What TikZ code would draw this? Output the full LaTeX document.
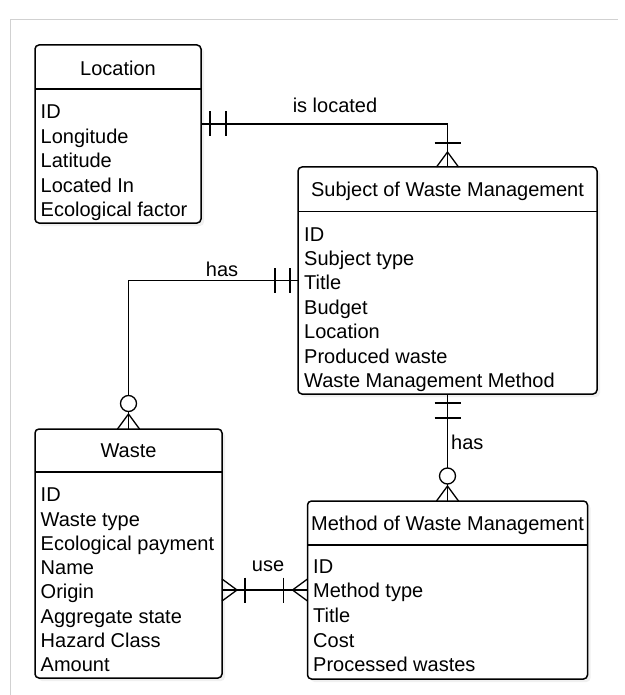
\documentclass[tikz,border=0pt]{standalone}
\usepackage{fontspec}
\setmainfont{Liberation Sans}
\usetikzlibrary{shadows,calc}
\newcommand\erfont{\fontsize{20}{24}\selectfont}
\begin{document}
\begin{tikzpicture}[x=1pt,y=-1pt,
  entity/.style={draw, line width=1.5pt, rounded corners=4pt, inner sep=0pt, outer sep=0pt, fill=white,
    drop shadow={shadow xshift=3pt, shadow yshift=-3pt, opacity=0.12}},
  sep/.style={line width=1.5pt},
  txt/.style={inner sep=0pt, anchor=base west, font=\erfont},
  ttl/.style={inner sep=0pt, anchor=base, font=\erfont},
  conn/.style={line width=1.3pt},
]
\useasboundingbox (0,0) rectangle (624,695);
\draw[black!18, line width=1pt] (10.5,695) -- (10.5,19.5) -- (618,19.5);

% entities
\node[entity, minimum width=166pt, minimum height=178pt] (loc) at (118,134) {};
\node[entity, minimum width=299pt, minimum height=227pt] (subj) at (447.5,280.5) {};
\node[entity, minimum width=187pt, minimum height=249pt] (waste) at (128.5,553.5) {};
\node[entity, minimum width=280pt, minimum height=178pt] (meth) at (447.5,590) {};

\draw[sep] (loc.west |- 0,89) -- (loc.east |- 0,89);
\draw[sep] (subj.west |- 0,211.5) -- (subj.east |- 0,211.5);
\draw[sep] (waste.west |- 0,472) -- (waste.east |- 0,472);
\draw[sep] (meth.west |- 0,545) -- (meth.east |- 0,545);

\node[ttl] (loc-t) at (118,76) {Location};
\node[ttl] (subj-t) at (447.5,196.7) {Subject of Waste Management};
\node[ttl] (waste-t) at (128.5,457.3) {Waste};
\node[ttl] (meth-t) at (447.5,530.7) {Method of Waste Management};

\foreach \t [count=\i from 0] in {ID,Longitude,Latitude,Located In,Ecological factor}
  \node[txt] (loc-\i) at (40.5,119+24.4*\i) {\t};
\foreach \t [count=\i from 0] in {ID,Subject type,Title,Budget,Location,Produced waste,Waste Management Method}
  \node[txt] (subj-\i) at (304,241+24.4*\i) {\t};
\foreach \t [count=\i from 0] in {ID,Waste type,Ecological payment,Name,Origin,Aggregate state,Hazard Class,Amount}
  \node[txt] (waste-\i) at (40.5,501.7+24.3*\i) {\t};
\foreach \t [count=\i from 0] in {ID,Method type,Title,Cost,Processed wastes}
  \node[txt] (meth-\i) at (313,573.3+24.6*\i) {\t};

% is located
\coordinate (locR) at ([yshift=10pt]loc.east);
\draw[conn] (locR) -| (subj.north);
\draw[conn] ([xshift=9pt]locR) +(0,-12.5) -- +(0,12.5);
\draw[conn] ([xshift=25pt]locR) +(0,-12.5) -- +(0,12.5);
\draw[conn] ([yshift=24pt]subj.north) +(-13,0) -- +(13,0);
\draw[conn] ([xshift=-11pt]subj.north) -- ([yshift=15pt]subj.north) -- ([xshift=11pt]subj.north);
\node[ttl] (lbl-loc) at (335,113) {is located};

% has (subject - waste)
\draw[conn] (subj.west) -| ([yshift=34pt]waste.north);
\draw[conn] ([xshift=-8pt]subj.west) +(0,-12.5) -- +(0,12.5);
\draw[conn] ([xshift=-23pt]subj.west) +(0,-12.5) -- +(0,12.5);
\draw[conn, fill=white] ([yshift=25.5pt]waste.north) circle[radius=8];
\draw[conn] ([yshift=17.5pt]waste.north) -- (waste.north);
\draw[conn] ([xshift=-11pt]waste.north) -- ([yshift=15pt]waste.north) -- ([xshift=11pt]waste.north);
\node[ttl] (lbl-has1) at (222,276.5) {has};

% has (subject - method)
\draw[conn] (subj.south) -- ([yshift=33pt]meth.north);
\draw[conn] ([yshift=-9pt]subj.south) +(-13,0) -- +(13,0);
\draw[conn] ([yshift=-24pt]subj.south) +(-13,0) -- +(13,0);
\draw[conn, fill=white] ([yshift=25pt]meth.north) circle[radius=8];
\draw[conn] ([yshift=17pt]meth.north) -- (meth.north);
\draw[conn] ([xshift=-11pt]meth.north) -- ([yshift=15pt]meth.north) -- ([xshift=11pt]meth.north);
\node[txt] (lbl-has2) at (451,449) {has};

% use
\coordinate (wR) at ([yshift=-36.5pt]waste.east);
\draw[conn] (wR) -- (meth.west);
\draw[conn] ([yshift=11pt]wR) -- ([xshift=15pt]wR) -- ([yshift=-11pt]wR);
\draw[conn] ([xshift=23pt]wR) +(0,-12.5) -- +(0,12.5);
\draw[conn] ([xshift=-24pt]meth.west) +(0,-12.5) -- +(0,12.5);
\draw[conn] ([yshift=11pt]meth.west) -- ([xshift=-15pt]meth.west) -- ([yshift=-11pt]meth.west);
\node[ttl] (lbl-use) at (268,571.5) {use};
\end{tikzpicture}
\end{document}
